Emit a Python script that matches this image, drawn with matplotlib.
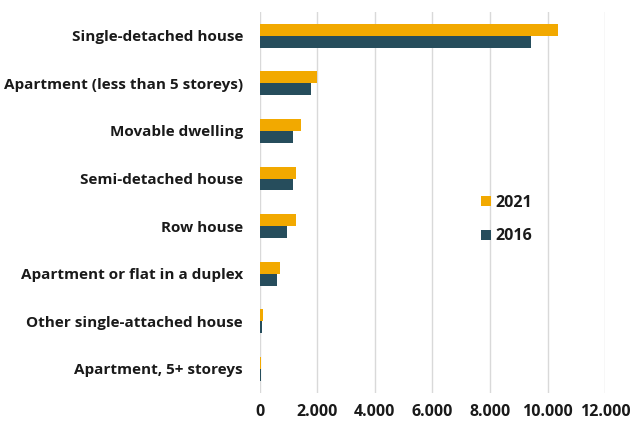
import matplotlib.pyplot as plt
import numpy as np

categories = [
    "Single-detached house",
    "Apartment (less than 5 storeys)",
    "Movable dwelling",
    "Semi-detached house",
    "Row house",
    "Apartment or flat in a duplex",
    "Other single-attached house",
    "Apartment, 5+ storeys",
]
values_2021 = [10350, 1980, 1430, 1260, 1250, 690, 115, 55]
values_2016 = [9420, 1770, 1170, 1160, 940, 600, 70, 35]
xticks = [0, 2000, 4000, 6000, 8000, 10000, 12000]
xtick_labels = ["0", "2.000", "4.000", "6.000", "8.000", "10.000", "12.000"]

ORANGE = "#F2A900"
TEAL = "#264D5C"
TEXT = "#1a1a1a"

plt.rcParams["font.family"] = ["Open Sans", "DejaVu Sans"]

fig = plt.figure(figsize=(6.31, 4.21), dpi=100)
ax = fig.add_axes([0.4116, 0.0672, 0.9592 - 0.4116, 0.9715 - 0.0672])

y = np.arange(len(categories))
h = 0.25
ax.barh(y - h / 2, values_2021, height=h, color=ORANGE, label="2021", zorder=3)
ax.barh(y + h / 2, values_2016, height=h, color=TEAL, label="2016", zorder=3)

ax.set_ylim(len(categories) - 0.5, -0.5)
ax.set_xlim(0, 12000)
ax.set_yticks(y)
ax.set_yticklabels(categories, fontsize=11, fontweight="bold", color=TEXT)
ax.set_xticks(xticks)
ax.set_xticklabels(xtick_labels, fontsize=11.5, fontweight="bold", color=TEXT)
ax.tick_params(axis="both", length=0)
ax.tick_params(axis="y", pad=12)
ax.tick_params(axis="x", pad=8)

ax.grid(axis="x", color="#d9d9d9", linewidth=1.0, zorder=0)
for side in ["top", "right", "bottom", "left"]:
    ax.spines[side].set_visible(False)

ax.legend(
    loc="center left",
    bbox_to_anchor=(0.6, 0.455),
    frameon=False,
    prop={"size": 11.5, "weight": "bold"},
    handlelength=0.6,
    handleheight=0.6,
    handletextpad=0.3,
    labelspacing=1.1,
    labelcolor=TEXT,
)

fig.savefig("out.png", dpi=100)
